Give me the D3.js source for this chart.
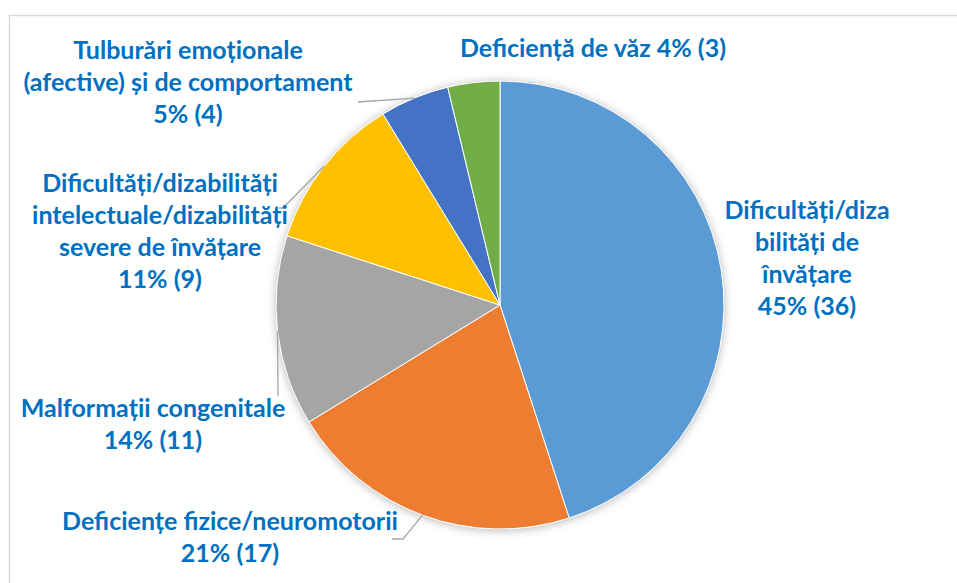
<!DOCTYPE html>
<html>
<head>
<meta charset="utf-8">
<script src="https://cdn.jsdelivr.net/npm/d3@7"></script>
<style>
  body { margin: 0; background: #fff; }
  text { font-family: Lato, "Open Sans", sans-serif; font-weight: bold; }
</style>
</head>
<body>
<div id="chart"></div>
<script>
// data
var categories = [
    "Dificultăți/dizabilități de învățare",
    "Deficiențe fizice/neuromotorii",
    "Malformații congenitale",
    "Dificultăți/dizabilități intelectuale/dizabilități severe de învățare",
    "Tulburări emoționale (afective) și de comportament",
    "Deficiență de văz"
];
var values = [36, 17, 11, 9, 4, 3];
var colors = ["#5B9BD5", "#ED7D31", "#A5A5A5", "#FFC000", "#4472C4", "#70AD47"];

// label text as it wraps in the picture
var labelLines = [
    ["Dificultăți/diza", "bilități de", "învățare"],
    ["Deficiențe fizice/neuromotorii"],
    ["Malformații congenitale"],
    ["Dificultăți/dizabilități", "intelectuale/dizabilități", "severe de învățare"],
    ["Tulburări emoționale", "(afective) și de comportament"],
    ["Deficiență de văz"]
];
var pctInline = [false, false, false, false, false, true];

function init() {
    var w = 957;
    var h = 583;
    var cx = 500, cy = 305, r = 224;
    var lineH = 32;

    // label centres (x, y of first line) and leader elbows
    var labelPos = [[807, 210], [230, 521], [153, 408], [160, 183], [188, 50], [593, 48]];
    var leaders = [null, [[403, 539], [392, 539]], [[278, 396]], [[283, 208], [279, 208]], [[358, 102]], null];

    var svg = d3.select("#chart")
        .append("svg")
        .attr("width", w)
        .attr("height", h);

    var defs = svg.append("defs");
    var f = defs.append("filter").attr("id", "shadow")
        .attr("x", "-20%").attr("y", "-20%").attr("width", "140%").attr("height", "140%");
    f.append("feDropShadow")
        .attr("dx", 0).attr("dy", 1)
        .attr("stdDeviation", 5)
        .attr("flood-color", "#000")
        .attr("flood-opacity", 0.3);

    // chart frame
    svg.append("path")
        .attr("d", "M9.5," + h + "V15.5H" + w)
        .attr("fill", "none")
        .attr("stroke", "#D9D9D9")
        .attr("stroke-width", 1.5);

    var total = d3.sum(values);
    var pct = d3.format(".0%");

    var pie = d3.pie().sort(null).value(function (d) { return d; });
    var arcs = pie(values);
    var arc = d3.arc().innerRadius(0).outerRadius(r);

    var g = svg.append("g").attr("transform", "translate(" + cx + "," + cy + ")");

    g.append("circle").attr("r", r).attr("fill", "#fff").attr("filter", "url(#shadow)");

    g.selectAll("path.slice")
        .data(arcs)
        .enter()
        .append("path")
        .attr("class", "slice")
        .attr("d", arc)
        .attr("fill", function (d, i) { return colors[i]; })
        .attr("stroke", "#fff")
        .attr("stroke-width", 1);

    // leader lines
    arcs.forEach(function (d, i) {
        if (!leaders[i]) return;
        var a = (d.startAngle + d.endAngle) / 2;
        var pts = [[cx + r * Math.sin(a), cy - r * Math.cos(a)]].concat(leaders[i]);
        svg.append("path")
            .attr("d", d3.line()(pts))
            .attr("fill", "none")
            .attr("stroke", "#A6A6A6")
            .attr("stroke-width", 1.3);
    });

    // labels
    arcs.forEach(function (d, i) {
        var p = pct(values[i] / total) + " (" + values[i] + ")";
        var lines = labelLines[i].slice();
        if (pctInline[i]) {
            lines[lines.length - 1] += " " + p;
        } else {
            lines.push(p);
        }
        var t = svg.append("text")
            .attr("text-anchor", "middle")
            .attr("fill", "#0070C0")
            .attr("font-size", 25);
        lines.forEach(function (s, j) {
            t.append("tspan")
                .attr("x", labelPos[i][0])
                .attr("y", labelPos[i][1] + j * lineH)
                .attr("dy", "0.35em")
                .text(s);
        });
    });
}

window.onload = init;
</script>
</body>
</html>
